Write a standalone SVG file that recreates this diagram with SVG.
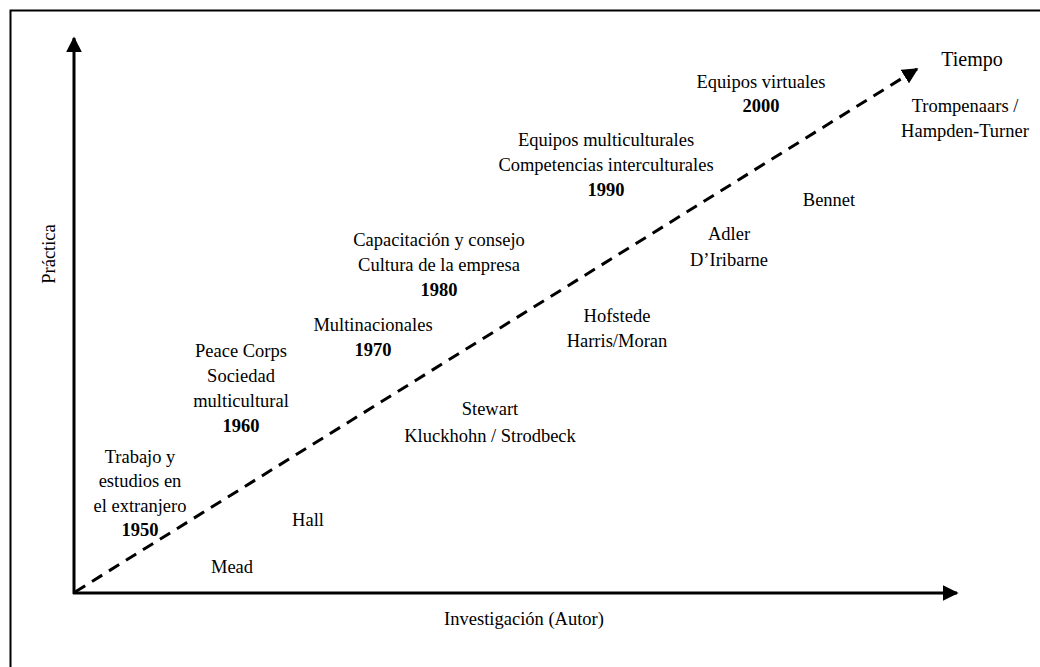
<svg xmlns="http://www.w3.org/2000/svg" width="1040" height="667" viewBox="0 0 1040 667">
  <style>
    text { font-family: "Liberation Serif", "Times New Roman", serif; font-size: 18.5px; fill: #000; text-anchor: middle; }
    .yr { font-weight: bold; }
    .axis { stroke: #000; stroke-width: 3; fill: none; }
    .trend { stroke: #000; stroke-width: 3; fill: none; stroke-dasharray: 12 8; }
  </style>
  <defs>
    <marker id="head" viewBox="0 0 10 10" refX="9" refY="5" markerWidth="16" markerHeight="16" markerUnits="userSpaceOnUse" orient="auto">
      <path d="M0,0 L10,5 L0,10 Z" fill="#000"/>
    </marker>
  </defs>
  <rect width="1040" height="667" fill="#fff"/>
  <!-- outer frame -->
  <rect x="10.5" y="10.5" width="1040" height="670" fill="none" stroke="#000" stroke-width="2"/>

  <g id="connectors">
    <line class="axis" x1="74" y1="594" x2="74" y2="38" marker-end="url(#head)"/>
    <line class="axis" x1="73" y1="593" x2="957" y2="593" marker-end="url(#head)"/>
    <line class="trend" x1="75" y1="592" x2="917" y2="69" marker-end="url(#head)"/>
  </g>

  <g id="axis-labels">
    <text x="524" y="625">Investigación (Autor)</text>
    <text transform="translate(55,254) rotate(-90)">Práctica</text>
    <text x="972" y="66" style="font-size:20px">Tiempo</text>
  </g>

  <g id="p1950">
    <text x="140" y="463">Trabajo y</text>
    <text x="140" y="487">estudios en</text>
    <text x="140" y="512">el extranjero</text>
    <text x="140" y="536" class="yr">1950</text>
  </g>
  <g id="p1960">
    <text x="241" y="357">Peace Corps</text>
    <text x="241" y="382">Sociedad</text>
    <text x="241" y="407">multicultural</text>
    <text x="241" y="432" class="yr">1960</text>
  </g>
  <g id="p1970">
    <text x="373" y="331">Multinacionales</text>
    <text x="373" y="356" class="yr">1970</text>
  </g>
  <g id="p1980">
    <text x="439" y="246">Capacitación y consejo</text>
    <text x="439" y="271">Cultura de la empresa</text>
    <text x="439" y="296" class="yr">1980</text>
  </g>
  <g id="p1990">
    <text x="606" y="146">Equipos multiculturales</text>
    <text x="606" y="171">Competencias interculturales</text>
    <text x="606" y="196" class="yr">1990</text>
  </g>
  <g id="p2000">
    <text x="761" y="88">Equipos virtuales</text>
    <text x="761" y="112" class="yr">2000</text>
  </g>

  <g id="a-mead"><text x="232" y="573">Mead</text></g>
  <g id="a-hall"><text x="308" y="526">Hall</text></g>
  <g id="a-stewart">
    <text x="490" y="415">Stewart</text>
    <text x="490" y="442">Kluckhohn / Strodbeck</text>
  </g>
  <g id="a-hofstede">
    <text x="617" y="322">Hofstede</text>
    <text x="617" y="347">Harris/Moran</text>
  </g>
  <g id="a-adler">
    <text x="729" y="240">Adler</text>
    <text x="729" y="266">D’Iribarne</text>
  </g>
  <g id="a-bennet"><text x="829" y="206">Bennet</text></g>
  <g id="a-trompenaars">
    <text x="965" y="112">Trompenaars /</text>
    <text x="965" y="137">Hampden-Turner</text>
  </g>
</svg>
